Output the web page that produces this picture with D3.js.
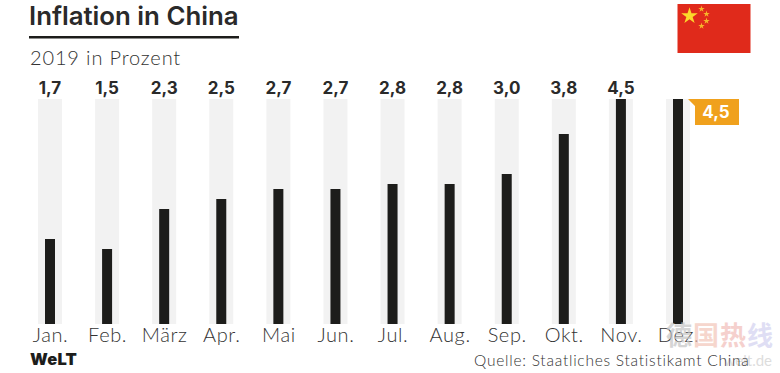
<!doctype html>
<html lang="de">
<head>
    <meta charset="utf-8">
    <title>Inflation in China</title>
    <script src="https://d3js.org/d3.v7.min.js"></script>
    <style>
        html, body { margin: 0; padding: 0; background: #fff; }
        svg { display: block; }
        text { font-family: Lato, sans-serif; }
    </style>
</head>
<body>
    <script>
        const months = ["Jan.", "Feb.", "März", "Apr.", "Mai", "Jun.", "Jul.", "Aug.", "Sep.", "Okt.", "Nov.", "Dez."];
        const values = [1.7, 1.5, 2.3, 2.5, 2.7, 2.7, 2.8, 2.8, 3.0, 3.8, 4.5, 4.5];
        const maxValue = 4.5;
        const latest = 4.5;

        const width = 780;
        const height = 373;
        const fmt = d3.format(".1f");
        const comma = function (v) { return fmt(v).replace(".", ","); };

        var svg = d3.select("body")
            .append("svg")
            .attr("width", width)
            .attr("height", height);

        // Title block
        svg.append("text")
            .attr("x", 29).attr("y", 25)
            .attr("font-size", 25.8).attr("font-weight", 600)
            .attr("style", "font-family: Inter")
            .attr("letter-spacing", 0)
            .attr("fill", "#2a2a2a")
            .text("Inflation in China");
        svg.append("rect")
            .attr("x", 29).attr("y", 36)
            .attr("width", 210).attr("height", 2.5)
            .attr("fill", "#1d1d1b");
        svg.append("text")
            .attr("x", 30).attr("y", 65)
            .attr("font-size", 20).attr("font-weight", 300)
            .attr("letter-spacing", 0.85)
            .attr("fill", "#333")
            .text("2019 in Prozent");

        // Scales
        var xscale = d3.scalePoint()
            .domain(months)
            .range([50, 678]);
        var yscale = d3.scaleLinear()
            .domain([0, maxValue])
            .range([324, 99]);

        // Background tracks
        svg.selectAll(".track")
            .data(months)
            .enter()
            .append("rect")
            .attr("class", "track")
            .attr("x", function (d) { return xscale(d) - 12; })
            .attr("y", yscale(maxValue))
            .attr("width", 24)
            .attr("height", yscale(0) - yscale(maxValue))
            .attr("fill", "#f2f2f2");

        // Bars
        svg.selectAll(".bar")
            .data(values)
            .enter()
            .append("rect")
            .attr("class", "bar")
            .attr("x", function (d, i) { return xscale(months[i]) - 5; })
            .attr("y", function (d) { return yscale(d); })
            .attr("width", 10)
            .attr("height", function (d) { return yscale(0) - yscale(d); })
            .attr("fill", "#1d1d1b");

        // Value labels above the tracks
        svg.selectAll(".val")
            .data(values)
            .enter()
            .append("text")
            .attr("class", "val")
            .attr("x", function (d, i) { return xscale(months[i]); })
            .attr("y", 94)
            .attr("text-anchor", "middle")
            .attr("font-size", 17).attr("font-weight", 700)
            .attr("style", "font-family: Inter")
            .attr("fill", "#2a2a2a")
            .text(function (d, i) { return i < 11 ? comma(d) : ""; });

        // Month labels
        var x_axis = d3.axisBottom(xscale).tickSize(0).tickPadding(0);
        var axisG = svg.append("g")
            .attr("transform", "translate(0, 328)")
            .call(x_axis);
        axisG.select(".domain").remove();
        axisG.selectAll("text")
            .attr("font-size", 20).attr("font-weight", 300)
            .attr("letter-spacing", 0.6)
            .attr("fill", "#333")
            .attr("style", "font-family: Lato");

        // Orange callout for the latest value
        svg.append("path")
            .attr("d", "M688,99H739V125H695V106Z")
            .attr("fill", "#f0a11d");
        svg.append("text")
            .attr("x", 716).attr("y", 118)
            .attr("text-anchor", "middle")
            .attr("font-size", 17).attr("font-weight", 700)
            .attr("style", "font-family: Inter")
            .attr("fill", "#fff")
            .text(comma(latest));

        // Flag
        var flag = svg.append("g").attr("transform", "translate(677.5, 4)");
        flag.append("rect").attr("width", 73).attr("height", 49).attr("fill", "#e02a1b");
        var star = d3.symbol().type(d3.symbolStar);
        flag.append("path")
            .attr("d", star.size(85)())
            .attr("transform", "translate(12, 12)")
            .attr("fill", "#fbd92b");
        [[24, 5], [29, 10], [29, 17], [24, 22]].forEach(function (p) {
            flag.append("path")
                .attr("d", star.size(13)())
                .attr("transform", "translate(" + p[0] + "," + p[1] + ")")
                .attr("fill", "#f6b62a");
        });

        // Footer
        svg.append("text")
            .attr("x", 30).attr("y", 365)
            .attr("font-size", 16.5).attr("font-weight", 900)
            .attr("style", "font-family: Inter")
            .attr("letter-spacing", 0.2)
            .attr("fill", "#1d1d1b")
            .text("WeLT");
        svg.append("text")
            .attr("x", 772).attr("y", 366)
            .attr("text-anchor", "end")
            .attr("font-size", 15).attr("font-weight", 400)
            .attr("fill", "#ddd")
            .text("welt.de");
        svg.append("text")
            .attr("x", 474).attr("y", 366)
            .attr("font-size", 15.5).attr("font-weight", 300)
            .attr("letter-spacing", 0.76)
            .attr("fill", "#333")
            .text("Quelle: Staatliches Statistikamt China");

        // Watermark over the corner
        var mark = [["德", "#c4c4c4"], ["国", "#f3c6b9"], ["热", "#f2bdb8"], ["线", "#d2d1f0"]];
        svg.selectAll(".mark")
            .data(mark)
            .enter()
            .append("text")
            .attr("class", "mark")
            .attr("x", function (d, i) { return 666 + i * 27; })
            .attr("y", 345)
            .attr("font-size", 26).attr("font-weight", 700)
            .attr("style", "font-family: 'Noto Sans CJK SC'")
            .attr("opacity", 0.7)
            .attr("fill", function (d) { return d[1]; })
            .text(function (d) { return d[0]; });
    </script>
</body>
</html>
